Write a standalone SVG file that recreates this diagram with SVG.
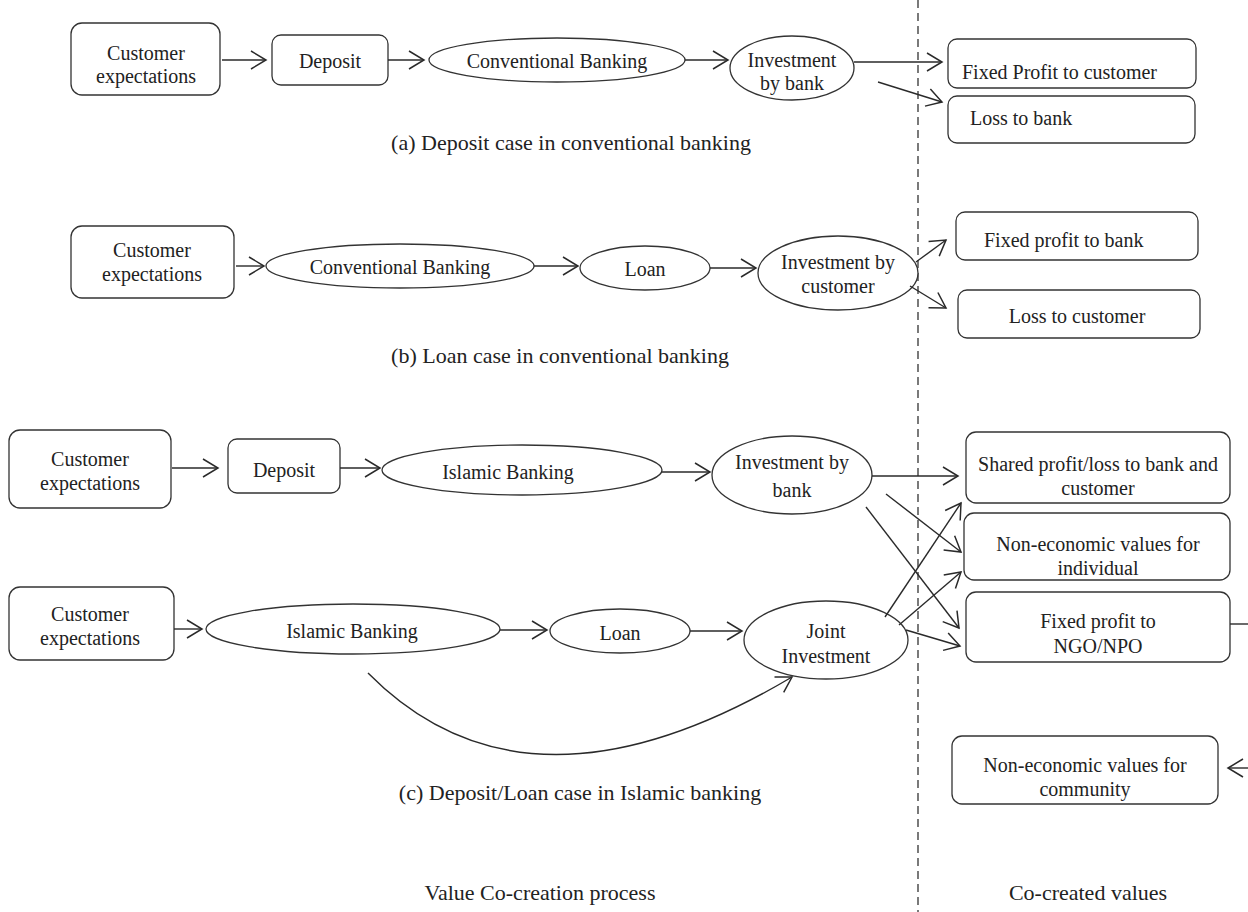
<svg xmlns="http://www.w3.org/2000/svg" width="1248" height="912" viewBox="0 0 1248 912">
<defs>
<marker id="ah" markerUnits="userSpaceOnUse" markerWidth="18" markerHeight="22" viewBox="0 0 18 22" refX="16" refY="11" orient="auto">
<path d="M1,2 L16,11 L1,20" fill="none" stroke="#2a2a2a" stroke-width="1.5"/>
</marker>
</defs>
<style>
text{font-family:"Liberation Serif","Times New Roman",serif;font-size:20px;fill:#222;text-anchor:middle}
.cap{font-size:22px}
.box{fill:#fff;stroke:#333;stroke-width:1.3}
.ell{fill:#fff;stroke:#333;stroke-width:1.3}
.c line,.c path{stroke:#2a2a2a;stroke-width:1.4;fill:none;marker-end:url(#ah)}
.l{text-anchor:start}
</style>
<rect width="1248" height="912" fill="#fff"/>
<line x1="918" y1="0" x2="918" y2="912" stroke="#333" stroke-width="1.3" stroke-dasharray="8,5"/>

<g id="a-customer"><rect class="box" x="71" y="23" width="149" height="72" rx="11"/><text x="146" y="60">Customer</text><text x="146" y="83">expectations</text></g>
<g id="a-deposit"><rect class="box" x="272" y="35" width="116" height="50" rx="9"/><text x="330" y="68">Deposit</text></g>
<g id="a-conv"><ellipse class="ell" cx="557" cy="60" rx="128" ry="22"/><text x="557" y="68">Conventional Banking</text></g>
<g id="a-invest"><ellipse class="ell" cx="792" cy="68" rx="62" ry="32"/><text x="792" y="67">Investment</text><text x="792" y="90">by bank</text></g>
<g id="a-fixed"><rect class="box" x="948" y="39" width="248" height="49" rx="9"/><text class="l" x="962" y="79">Fixed Profit to customer</text></g>
<g id="a-loss"><rect class="box" x="948" y="96" width="247" height="47" rx="9"/><text class="l" x="970" y="125">Loss to bank</text></g>
<text class="cap" x="571" y="150">(a) Deposit case in conventional banking</text>

<g id="b-customer"><rect class="box" x="71" y="226" width="163" height="72" rx="11"/><text x="152" y="257">Customer</text><text x="152" y="281">expectations</text></g>
<g id="b-conv"><ellipse class="ell" cx="400" cy="266" rx="134" ry="22"/><text x="400" y="274">Conventional Banking</text></g>
<g id="b-loan"><ellipse class="ell" cx="645" cy="268" rx="65" ry="22"/><text x="645" y="276">Loan</text></g>
<g id="b-invest"><ellipse class="ell" cx="838" cy="273" rx="80" ry="37"/><text x="838" y="269">Investment by</text><text x="838" y="293">customer</text></g>
<g id="b-fixed"><rect class="box" x="956" y="212" width="242" height="48" rx="9"/><text class="l" x="984" y="247">Fixed profit to bank</text></g>
<g id="b-loss"><rect class="box" x="958" y="290" width="242" height="48" rx="9"/><text x="1077" y="323">Loss to customer</text></g>
<text class="cap" x="560" y="363">(b) Loan case in conventional banking</text>

<g id="c-customer1"><rect class="box" x="9" y="430" width="162" height="78" rx="11"/><text x="90" y="466">Customer</text><text x="90" y="490">expectations</text></g>
<g id="c-deposit"><rect class="box" x="228" y="439" width="112" height="54" rx="9"/><text x="284" y="477">Deposit</text></g>
<g id="c-islamic1"><ellipse class="ell" cx="522" cy="470" rx="140" ry="25"/><text x="508" y="479">Islamic Banking</text></g>
<g id="c-invest"><ellipse class="ell" cx="792" cy="475" rx="80" ry="39"/><text x="792" y="469">Investment by</text><text x="792" y="497">bank</text></g>
<g id="c-customer2"><rect class="box" x="9" y="587" width="165" height="73" rx="11"/><text x="90" y="621">Customer</text><text x="90" y="645">expectations</text></g>
<g id="c-islamic2"><ellipse class="ell" cx="353" cy="629" rx="147" ry="25"/><text x="352" y="638">Islamic Banking</text></g>
<g id="c-loan"><ellipse class="ell" cx="620" cy="631" rx="70" ry="22"/><text x="620" y="640">Loan</text></g>
<g id="c-joint"><ellipse class="ell" cx="826" cy="640" rx="82" ry="39"/><text x="826" y="638">Joint</text><text x="826" y="663">Investment</text></g>
<g id="c-shared"><rect class="box" x="966" y="432" width="264" height="71" rx="10"/><text x="1098" y="471">Shared profit/loss to bank and</text><text x="1098" y="495">customer</text></g>
<g id="c-noneco-ind"><rect class="box" x="964" y="513" width="266" height="67" rx="10"/><text x="1098" y="551">Non-economic values for</text><text x="1098" y="575">individual</text></g>
<g id="c-ngo"><rect class="box" x="966" y="592" width="264" height="70" rx="10"/><text x="1098" y="628">Fixed profit to</text><text x="1098" y="653">NGO/NPO</text></g>
<g id="c-noneco-com"><rect class="box" x="952" y="736" width="266" height="68" rx="10"/><text x="1085" y="772">Non-economic values for</text><text x="1085" y="796">community</text></g>
<text class="cap" x="580" y="800">(c) Deposit/Loan case in Islamic banking</text>

<text class="cap" x="540" y="900">Value Co-creation process</text>
<text class="cap" x="1088" y="900">Co-created values</text>

<g id="connectors" class="c">
<line x1="222" y1="60" x2="266" y2="60"/>
<line x1="388" y1="60" x2="424" y2="60"/>
<line x1="685" y1="60" x2="728" y2="60"/>
<line x1="854" y1="62" x2="942" y2="62"/>
<line x1="878" y1="82" x2="942" y2="102"/>
<line x1="236" y1="266" x2="264" y2="266"/>
<line x1="534" y1="266" x2="578" y2="266"/>
<line x1="710" y1="268" x2="756" y2="268"/>
<line x1="916" y1="262" x2="946" y2="240"/>
<line x1="910" y1="286" x2="946" y2="308"/>
<line x1="172" y1="468" x2="218" y2="468"/>
<line x1="340" y1="468" x2="380" y2="468"/>
<line x1="662" y1="472" x2="710" y2="472"/>
<line x1="872" y1="476" x2="958" y2="476"/>
<line x1="886" y1="494" x2="961" y2="552"/>
<line x1="866" y1="507" x2="959" y2="628"/>
<line x1="174" y1="629" x2="202" y2="629"/>
<line x1="500" y1="630" x2="547" y2="630"/>
<line x1="690" y1="631" x2="742" y2="631"/>
<line x1="885" y1="617" x2="961" y2="503"/>
<line x1="899" y1="625" x2="961" y2="572"/>
<line x1="906" y1="630" x2="960" y2="646"/>
<path d="M368,673 Q527,834 792,677"/>
<line x1="1248" y1="768" x2="1228" y2="768"/>
<line x1="1230" y1="624" x2="1248" y2="624" style="marker-end:none"/>
</g>
</svg>
